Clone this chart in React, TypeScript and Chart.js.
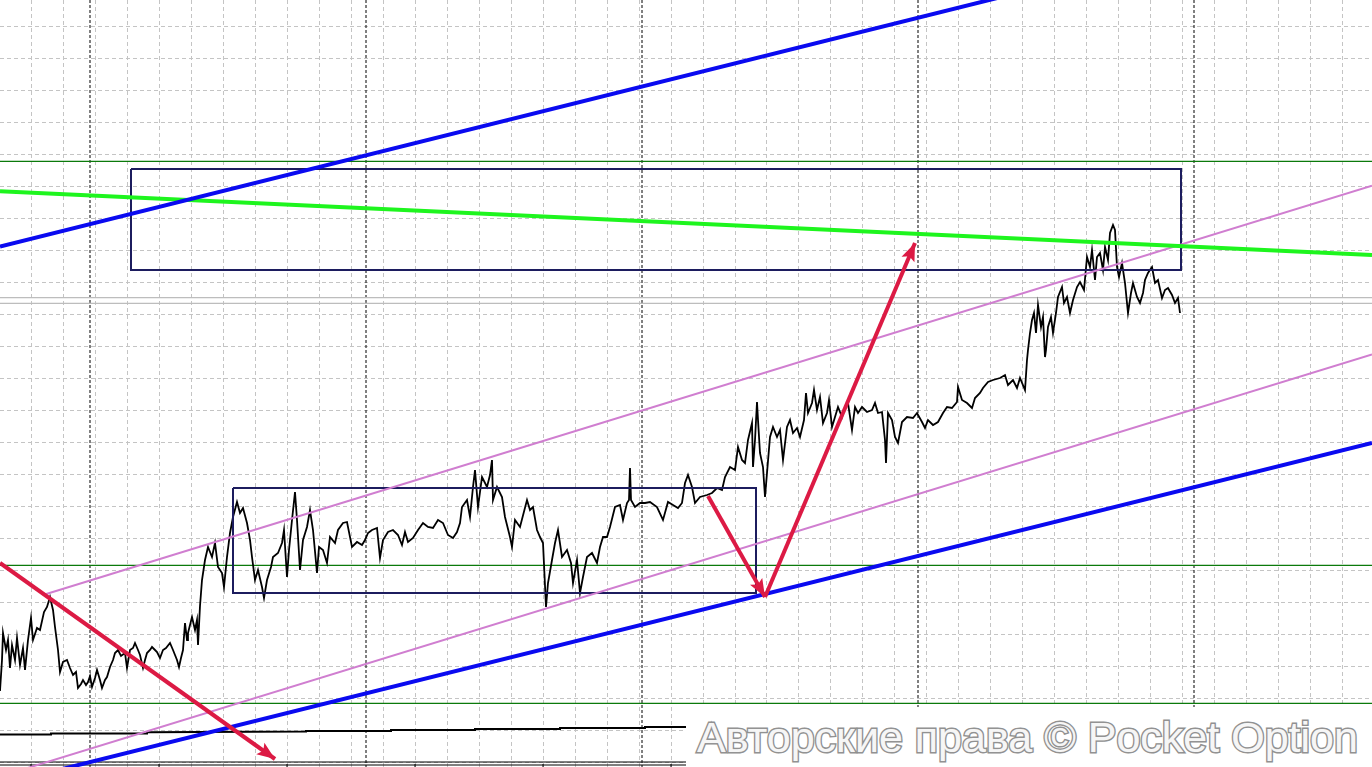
import { useEffect, useRef } from "react";
import { Chart, registerables } from "chart.js";

Chart.register(...registerables);

const W = 1372;
const H = 767;

// ---- price series (bar index, price level; level axis grows downward like the screen) ----
const priceBars = [
  0, 2, 3, 6, 8, 10, 12, 15, 17, 20, 23, 25, 28, 31, 33, 37, 40, 44, 47, 50,
  53, 55, 58, 60, 63, 67, 70, 73, 76, 78, 81, 83, 86, 88, 90, 92, 95, 97, 100, 102,
  105, 107, 110, 113, 115, 118, 121, 125, 127, 130, 133, 135, 138, 140, 143, 145, 147, 150, 152, 155,
  157, 160, 163, 166, 170, 173, 175, 177, 179, 181, 183, 185, 187, 188, 190, 192, 195, 197, 198, 200,
  202, 205, 208, 212, 215, 218, 222, 224, 227, 230, 233, 237, 240, 243, 247, 250, 252, 255, 258, 262,
  264, 267, 271, 273, 278, 282, 284, 287, 289, 292, 295, 297, 300, 303, 307, 310, 313, 317, 319, 323,
  327, 330, 335, 338, 343, 347, 352, 357, 362, 365, 368, 372, 377, 380, 383, 388, 393, 398, 402, 405,
  408, 413, 418, 423, 428, 433, 438, 443, 448, 453, 457, 460, 462, 467, 470, 473, 475, 478, 482, 487,
  490, 492, 493, 497, 502, 505, 510, 512, 515, 520, 527, 530, 533, 537, 540, 543, 546, 548, 552, 555,
  558, 562, 567, 571, 573, 577, 580, 583, 587, 592, 597, 600, 603, 607, 610, 615, 620, 623, 627, 629,
  630, 631, 635, 640, 645, 650, 657, 663, 668, 673, 678, 682, 685, 688, 692, 695, 700, 707, 712, 717,
  722, 725, 730, 735, 738, 742, 745, 748, 752, 753, 755, 757, 758, 760, 763, 765, 767, 770, 773, 777,
  780, 783, 787, 790, 793, 797, 800, 804, 806, 808, 812, 814, 817, 820, 823, 827, 829, 832, 835, 838,
  842, 845, 848, 852, 855, 858, 862, 867, 872, 875, 878, 882, 885, 886, 888, 892, 895, 898, 902, 907,
  913, 917, 922, 925, 928, 933, 938, 943, 947, 952, 957, 958, 962, 967, 972, 975, 980, 983, 988, 993,
  1000, 1005, 1008, 1013, 1017, 1020, 1025, 1027, 1028, 1030, 1032, 1034, 1036, 1038, 1041, 1043, 1045, 1046, 1048, 1051,
  1053, 1056, 1058, 1062, 1064, 1067, 1070, 1073, 1077, 1080, 1084, 1087, 1090, 1092, 1095, 1097, 1100, 1103, 1105, 1108,
  1110, 1113, 1115, 1117, 1119, 1122, 1125, 1128, 1131, 1133, 1137, 1140, 1143, 1145, 1148, 1152, 1155, 1158, 1162, 1165,
  1168, 1172, 1175, 1178, 1180,
];
const priceLevels = [
  691, 660, 633, 650, 640, 668, 645, 660, 638, 665, 648, 670, 640, 618, 640, 628, 630, 612, 607, 597,
  610, 627, 650, 672, 662, 660, 668, 675, 672, 688, 684, 680, 685, 682, 676, 687, 678, 670, 680, 688,
  680, 677, 667, 660, 653, 650, 656, 653, 668, 650, 648, 643, 650, 655, 668, 660, 653, 650, 647, 650,
  652, 658, 650, 648, 643, 650, 655, 660, 667, 658, 650, 623, 640, 633, 625, 617, 630, 620, 645, 606,
  580, 560, 547, 557, 543, 567, 573, 587, 557, 533, 517, 502, 513, 508, 523, 540, 557, 580, 570, 587,
  598, 580, 567, 557, 553, 543, 530, 577, 550, 520, 492, 520, 570, 540, 527, 510, 530, 573, 547, 550,
  563, 537, 543, 530, 523, 522, 547, 542, 545, 540, 533, 530, 528, 558, 540, 532, 530, 535, 545, 532,
  542, 538, 530, 523, 527, 528, 520, 523, 535, 538, 532, 523, 507, 500, 517, 487, 470, 507, 477, 487,
  475, 460, 500, 487, 497, 517, 537, 547, 520, 527, 500, 510, 507, 530, 537, 543, 607, 583, 560, 543,
  530, 557, 550, 563, 583, 560, 593, 577, 557, 553, 563, 547, 537, 537, 527, 507, 505, 520, 503, 500,
  468, 500, 507, 503, 503, 502, 507, 520, 502, 505, 508, 503, 483, 475, 487, 503, 497, 495, 493, 488,
  490, 477, 467, 470, 447, 460, 463, 440, 423, 467, 440, 402, 420, 453, 467, 497, 473, 437, 427, 437,
  430, 460, 427, 420, 433, 428, 437, 420, 393, 413, 403, 390, 410, 397, 423, 413, 400, 427, 417, 407,
  417, 407, 403, 430, 407, 413, 407, 412, 410, 403, 413, 412, 440, 463, 413, 420, 437, 443, 422, 417,
  418, 413, 422, 428, 420, 425, 422, 413, 407, 408, 402, 387, 400, 403, 408, 398, 393, 388, 382, 380,
  378, 375, 385, 380, 388, 378, 390, 360, 350, 333, 320, 313, 333, 305, 327, 317, 357, 350, 327, 317,
  333, 313, 297, 287, 303, 297, 313, 300, 287, 282, 290, 257, 267, 250, 280, 257, 253, 270, 247, 260,
  233, 225, 230, 267, 277, 263, 283, 313, 293, 283, 297, 303, 293, 280, 273, 267, 283, 280, 298, 290,
  288, 295, 303, 298, 313,
];

// slow moving-average style line near the bottom
const maBars = [0, 51, 51, 147, 147, 306, 306, 391, 391, 475, 475, 560, 560, 645, 645, 686];
const maLevels = [734.5, 734.5, 733.5, 733.5, 732.3, 731.5, 731, 731, 730, 730, 729, 729, 728, 728, 727, 727];

// trend lines: [x1, y1, x2, y2]
const blueUpper = [0, 246.6, 1372, -95.4];
const blueLower = [0, 784.5, 1372, 443];
const greenLine = [0, 191.3, 1372, 255];
const pinkUpper = [43, 595, 1372, 185.8];
const pinkLower = [0, 776.5, 1372, 354.4];

// rectangles: [left, top, right, bottom]
const rectTop = [131, 169, 1181, 270];
const rectMid = [233, 488, 756, 593];

// arrows: [fromX, fromY, toX, toY]
const arrows = [
  [0, 563, 275, 759],
  [708, 496, 765, 597],
  [765, 597, 915, 243],
];

// horizontal levels
const greenLevels = [161.3, 565.3, 703.3];
const grayLevels = [297.7, 303.3];

// vertical session separators
const sessionBars = [90, 366, 642, 918, 1194];

// bottom time axis
const axisEnd = 686;
const axisLevels = [762, 765];
const axisTickBars = [31, 159, 287, 415, 543, 671];

// grid
const gridStepX = 31.97;
const gridStartX = -0.3;
const gridStepY = 32.01;
const gridStartY = 26;

const seg = (l: number[]) => [
  { x: l[0], y: l[1] },
  { x: l[2], y: l[3] },
];
const rectPts = (r: number[]) => [
  { x: r[0], y: r[1] },
  { x: r[2], y: r[1] },
  { x: r[2], y: r[3] },
  { x: r[0], y: r[3] },
  { x: r[0], y: r[1] },
];

const base = {
  showLine: true,
  pointRadius: 0,
  pointHoverRadius: 0,
  fill: false,
  tension: 0,
  spanGaps: false,
};

const arrowPlugin = {
  id: "arrowHeads",
  afterDatasetsDraw(chart: any) {
    const { ctx } = chart;
    const xs = chart.scales.x;
    const ys = chart.scales.y;
    ctx.save();
    const area = chart.chartArea;
    ctx.beginPath();
    ctx.rect(area.left, area.top, area.right - area.left, area.bottom - area.top);
    ctx.clip();
    arrows.forEach((a) => {
      const x1 = xs.getPixelForValue(a[0]);
      const y1 = ys.getPixelForValue(a[1]);
      const x2 = xs.getPixelForValue(a[2]);
      const y2 = ys.getPixelForValue(a[3]);
      const ang = Math.atan2(y2 - y1, x2 - x1);
      const L = 18;
      const hw = 7;
      const c = Math.cos(ang);
      const s = Math.sin(ang);
      ctx.fillStyle = "#dc1a44";
      ctx.beginPath();
      ctx.moveTo(x2, y2);
      ctx.lineTo(x2 - L * c + hw * s, y2 - L * s - hw * c);
      ctx.lineTo(x2 - L * 0.8 * c, y2 - L * 0.8 * s);
      ctx.lineTo(x2 - L * c - hw * s, y2 - L * s + hw * c);
      ctx.closePath();
      ctx.fill();
    });
    ctx.restore();
  },
};

export default function App() {
  const ref = useRef<HTMLCanvasElement | null>(null);

  useEffect(() => {
    if (!ref.current) return;
    const datasets: any[] = [];

    // arrows (top-most)
    arrows.forEach((a, i) => {
      datasets.push({
        ...base,
        label: "arrow" + i,
        data: seg(a),
        borderColor: "#dc1a44",
        borderWidth: 4,
      });
    });
    datasets.push({ ...base, label: "blueUpper", data: seg(blueUpper), borderColor: "#0a0af0", borderWidth: 4 });
    datasets.push({ ...base, label: "blueLower", data: seg(blueLower), borderColor: "#0a0af0", borderWidth: 4 });
    datasets.push({ ...base, label: "green", data: seg(greenLine), borderColor: "#1ef51e", borderWidth: 4 });
    datasets.push({ ...base, label: "pinkUpper", data: seg(pinkUpper), borderColor: "#d07ed0", borderWidth: 2 });
    datasets.push({ ...base, label: "pinkLower", data: seg(pinkLower), borderColor: "#d07ed0", borderWidth: 2 });
    datasets.push({ ...base, label: "rectTop", data: rectPts(rectTop), borderColor: "#1c1c5e", borderWidth: 2 });
    datasets.push({ ...base, label: "rectMid", data: rectPts(rectMid), borderColor: "#1c1c5e", borderWidth: 2 });
    datasets.push({
      ...base,
      label: "price",
      data: priceBars.map((x, i) => ({ x, y: priceLevels[i] })),
      borderColor: "#000000",
      borderWidth: 1.8,
    });
    datasets.push({
      ...base,
      label: "ma",
      data: maBars.map((x, i) => ({ x, y: maLevels[i] })),
      borderColor: "#000000",
      borderWidth: 2,
    });
    greenLevels.forEach((lv, i) => {
      datasets.push({ ...base, label: "lvl" + i, data: seg([0, lv, W, lv]), borderColor: "#0b7a0b", borderWidth: 1.2 });
    });
    grayLevels.forEach((lv, i) => {
      datasets.push({ ...base, label: "gray" + i, data: seg([0, lv, W, lv]), borderColor: "#bdbdbd", borderWidth: 1.2 });
    });
    sessionBars.forEach((b, i) => {
      datasets.push({
        ...base,
        label: "sess" + i,
        data: seg([b, 0, b, H]),
        borderColor: "#000000",
        borderWidth: 1,
        borderDash: [3, 2],
      });
    });
    axisLevels.forEach((lv, i) => {
      datasets.push({ ...base, label: "axis" + i, data: seg([0, lv, axisEnd, lv]), borderColor: "#000000", borderWidth: 1 });
    });
    datasets.push({
      label: "axisTicks",
      data: axisTickBars.map((x) => ({ x, y: H })),
      showLine: false,
      pointStyle: "line",
      rotation: 90,
      pointRadius: 3,
      pointHoverRadius: 3,
      borderColor: "#000000",
      borderWidth: 1,
    });

    const chart = new Chart(ref.current, {
      type: "scatter",
      data: { datasets },
      options: {
        animation: false,
        responsive: false,
        devicePixelRatio: 1,
        events: [],
        layout: { padding: 0, autoPadding: false },
        plugins: { legend: { display: false }, tooltip: { enabled: false } },
        scales: {
          x: {
            type: "linear",
            min: 0,
            max: W,
            ticks: { display: false },
            grid: { color: "#c4c4c4", lineWidth: 1, drawTicks: false },
            border: { display: false, dash: [4, 3] },
            afterBuildTicks: (s: any) => {
              const t: any[] = [];
              for (let k = 1; gridStartX + k * gridStepX < W; k++) t.push({ value: gridStartX + k * gridStepX });
              s.ticks = t;
            },
          },
          y: {
            type: "linear",
            min: 0,
            max: H,
            reverse: true,
            ticks: { display: false },
            grid: { color: "#c4c4c4", lineWidth: 1, drawTicks: false },
            border: { display: false, dash: [4, 3] },
            afterBuildTicks: (s: any) => {
              const t: any[] = [];
              for (let k = 0; gridStartY + k * gridStepY < H; k++) t.push({ value: gridStartY + k * gridStepY });
              s.ticks = t;
            },
          },
        },
      } as any,
      plugins: [arrowPlugin],
    });
    return () => chart.destroy();
  }, []);

  return (
    <div style={{ position: "fixed", left: 0, top: 0, width: W, height: H, background: "#ffffff", overflow: "hidden" }}>
      <canvas ref={ref} width={W} height={H} style={{ display: "block", width: W, height: H }} />
      <div
        style={{
          position: "absolute",
          left: 686,
          top: 707,
          width: W - 686,
          height: H - 707,
          background: "#ffffff",
        }}
      >
        <div
          style={{
            position: "absolute",
            left: 11,
            top: 8,
            fontFamily: "'Liberation Sans', Arial, sans-serif",
            fontSize: 43,
            lineHeight: "44px",
            whiteSpace: "nowrap",
            color: "#f6f6f6",
            WebkitTextStroke: "3px #8e8e8e",
            paintOrder: "stroke fill",
            textShadow: "0 0 1px #c0c0c0",
          } as any}
        >
          Авторские права © Pocket Option
        </div>
      </div>
    </div>
  );
}
